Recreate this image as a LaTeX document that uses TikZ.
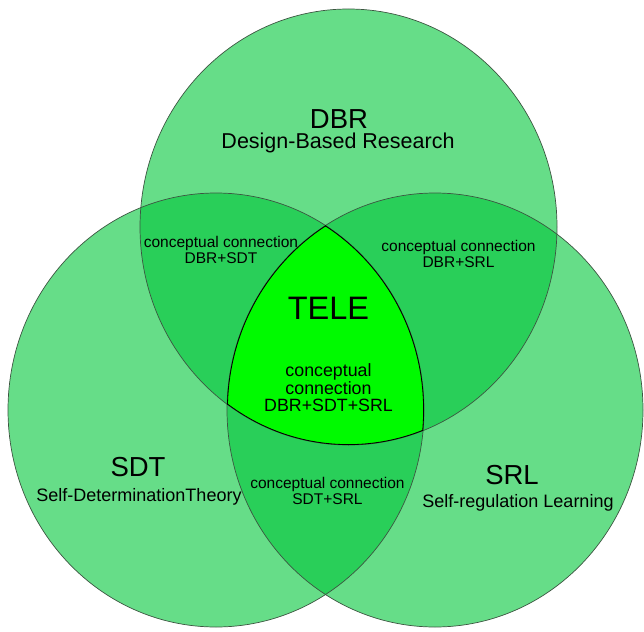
\documentclass[tikz,border=0pt]{standalone}
\usepackage{fontspec}
\setmainfont{Liberation Sans}
\definecolor{setgreen}{RGB}{0,198,57}
\definecolor{coregreen}{RGB}{0,250,0}
\definecolor{rimgray}{RGB}{60,85,65}
\begin{document}
\begin{tikzpicture}[x=1pt,y=-1pt,
  setfill/.style={fill=setgreen, fill opacity=0.6},
  rim/.style={draw=rimgray, line width=0.7pt},
  setname/.style={inner sep=0pt, font=\fontsize{27.5}{30}\selectfont},
  setsub/.style={inner sep=0pt, font=\fontsize{18}{20}\selectfont},
  topsub/.style={inner sep=0pt, font=\fontsize{21.5}{24}\selectfont},
  pairtext/.style={inner sep=0pt, align=center, font=\fontsize{15.5}{15.5}\selectfont},
  coretext/.style={inner sep=0pt, align=center, font=\fontsize{17.8}{17.5}\selectfont},
  coretitle/.style={inner sep=0pt, font=\fontsize{32.5}{34}\selectfont}]
\useasboundingbox (0,0) rectangle (644,631);

% the three sets
\fill[setfill] (348.5,227) ellipse [x radius=208.5, y radius=218];
\fill[setfill] (216,410) ellipse [x radius=208, y radius=217];
\fill[setfill] (435,410) ellipse [x radius=208, y radius=217];

% common core of all three sets
\begin{scope}
  \clip (348.5,227) ellipse [x radius=208.5, y radius=218];
  \clip (216,410) ellipse [x radius=208, y radius=217];
  \fill[coregreen] (435,410) ellipse [x radius=208, y radius=217];
\end{scope}

% outlines
\draw[rim] (348.5,227) ellipse [x radius=208.5, y radius=218];
\draw[rim] (216,410) ellipse [x radius=208, y radius=217];
\draw[rim] (435,410) ellipse [x radius=208, y radius=217];

% dark rim of the core
\begin{scope}
  \clip (348.5,227) ellipse [x radius=208.5, y radius=218];
  \clip (216,410) ellipse [x radius=208, y radius=217];
  \clip (435,410) ellipse [x radius=208, y radius=217];
  \draw[black, line width=1.6pt] (348.5,227) ellipse [x radius=208.5, y radius=218];
  \draw[black, line width=1.6pt] (216,410) ellipse [x radius=208, y radius=217];
  \draw[black, line width=1.6pt] (435,410) ellipse [x radius=208, y radius=217];
\end{scope}

% labels
\node[setname] (dbr) at (339,119) {DBR};
\node[topsub] (dbrsub) at (338,143) {Design-Based Research};
\node[setname] (sdt) at (138,467) {SDT};
\node[setsub] (sdtsub) at (139,497) {Self-DeterminationTheory};
\node[setname] (srl) at (512,475) {SRL};
\node[setsub] (srlsub) at (518,503) {Self-regulation Learning};

\node[pairtext] (dbrsdt) at (221,250) {conceptual connection\\DBR+SDT};
\node[pairtext] (dbrsrl) at (458.5,254) {conceptual connection\\DBR+SRL};
\node[pairtext] (sdtsrl) at (327.5,491) {conceptual connection\\SDT+SRL};

\node[coretitle] (tele) at (328.5,308) {TELE};
\node[coretext] (core) at (328.5,388) {conceptual\\connection\\DBR+SDT+SRL};
\end{tikzpicture}
\end{document}
